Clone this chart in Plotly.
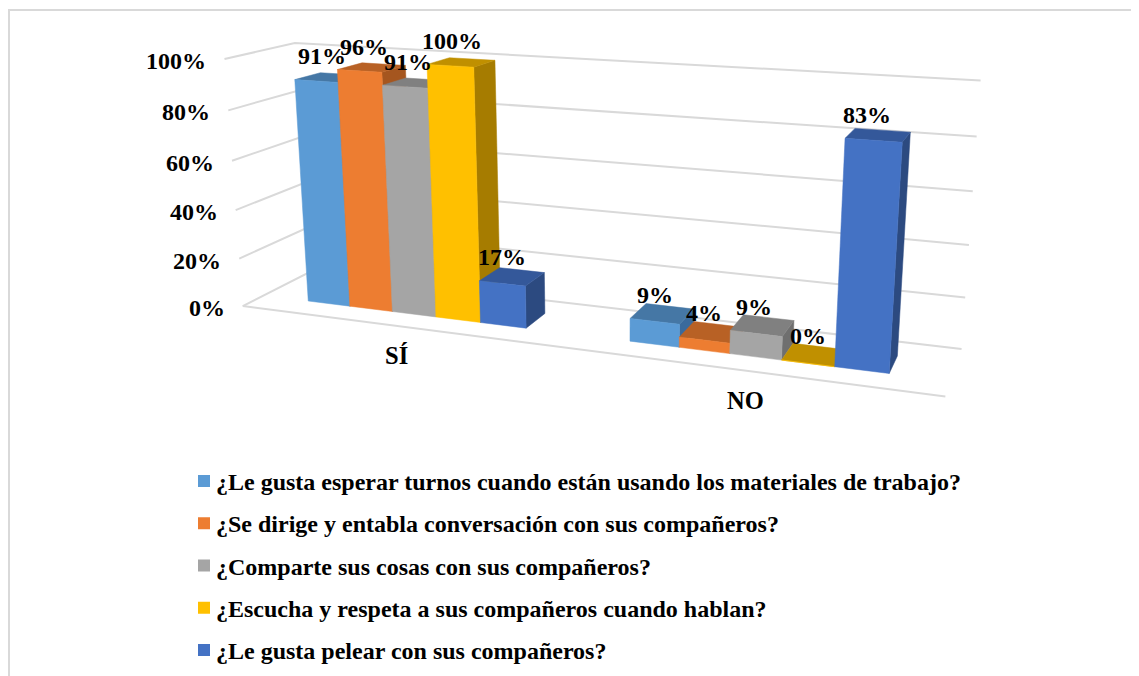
import numpy as np
import plotly.graph_objects as go

categories = ["SÍ", "NO"]
series_names = ["¿Le gusta esperar turnos cuando están usando los materiales de trabajo?",
                "¿Se dirige y entabla conversación con sus compañeros?",
                "¿Comparte sus cosas con sus compañeros?",
                "¿Escucha y respeta a sus compañeros cuando hablan?",
                "¿Le gusta pelear con sus compañeros?"]
si_values = [91, 96, 91, 100, 17]
no_values = [9, 4, 9, 0, 83]
ticks = [0, 20, 40, 60, 80, 100]

front_colors = ["#5B9BD5", "#ED7D31", "#A5A5A5", "#FFC000", "#4472C4"]
top_colors = ["#4577A5", "#B86125", "#808080", "#C09000", "#34589A"]
side_colors = ["#3A6A9C", "#A5561F", "#6F6F6F", "#A67C00", "#2C4A80"]
GRID = "#D9D9D9"
FONT = "Liberation Serif"

# small placement corrections for the value labels, per category and series
label_dx = [[0, 0, 0, 0, -1], [3, 3.5, 4, 7, 2]]
label_dy = [[-1, 0, -1, -1, -2], [-2, -3, -2, -3, -1]]

# 3-D chart box and the camera that views it
BOX = (2.784, 0.4876, 1.0)
GAP, BAR_FRONT, BAR_BACK = 2.1909, 0.3017, 0.6831
EYE = np.array([1.8161, -4.67, 1.266])
CENTER = np.array([0.1393, 0.0262, -0.082])
UP = np.array([-0.0899, 0.245, 0.9653])
CX, CY, FOCAL = 623.0, 223.8, 1370.1

fwd = (CENTER - EYE) / np.linalg.norm(CENTER - EYE)
right = np.cross(fwd, UP); right /= np.linalg.norm(right)
down = np.cross(fwd, right)


def project(u, v, z):
    """u: category axis 0..2, v: depth 0..1, z: value axis 0..1 -> plot coordinates."""
    p = np.array([BOX[0] * (u / 2 - .5), BOX[1] * (v - .5), BOX[2] * (z - .5)]) - EYE
    d = p @ fwd
    return CX + FOCAL * (p @ right) / d, CY + FOCAL * (p @ down) / d


fig = go.Figure()


def polygon(points, color):
    xy = [project(*q) for q in points + points[:1]]
    fig.add_trace(go.Scatter(x=[a for a, _ in xy], y=[b for _, b in xy], mode="lines", fill="toself",
                             fillcolor=color, line=dict(color=color, width=0.5), hoverinfo="skip"))


# gridlines: left wall + back wall + front floor edge
gx, gy = [], []
for t in ticks:
    for q in [(0, 0, t / 100), (0, 1, t / 100), (2, 1, t / 100)]:
        a, b = project(*q); gx.append(a); gy.append(b)
    gx.append(None); gy.append(None)
for q in [(0, 0, 0), (2, 0, 0)]:
    a, b = project(*q); gx.append(a); gy.append(b)
fig.add_trace(go.Scatter(x=gx, y=gy, mode="lines", line=dict(color=GRID, width=2), hoverinfo="skip"))

annotations = []


def label(x, y, text, size=24, xanchor="center"):
    annotations.append(dict(x=x, y=y, xref="x", yref="y", text=f"<b>{text}</b>", showarrow=False, xanchor=xanchor,
                            yanchor="middle", font=dict(family=FONT, size=size, color="black")))


w = 1 / (5 + GAP)
for c, values in enumerate([si_values, no_values]):
    for s, val in enumerate(values):
        x0 = c + (GAP / 2 + s) * w
        x1 = x0 + w
        z = val / 100
        polygon([(x1, BAR_FRONT, 0), (x1, BAR_BACK, 0), (x1, BAR_BACK, z), (x1, BAR_FRONT, z)], side_colors[s])
        polygon([(x0, BAR_FRONT, z), (x1, BAR_FRONT, z), (x1, BAR_BACK, z), (x0, BAR_BACK, z)], top_colors[s])
        polygon([(x0, BAR_FRONT, 0), (x1, BAR_FRONT, 0), (x1, BAR_FRONT, z), (x0, BAR_FRONT, z)], front_colors[s])
        a, b = project((x0 + x1) / 2, BAR_FRONT, z)
        label(a + 5.5 - 14 * (a - 320) / 545 + label_dx[c][s], b - 24 + label_dy[c][s], f"{val}%")
    a, b = project(c + .5, 0, 0)
    label(a + (1 - c), b + 30, categories[c], size=24.5)

for t in ticks:
    a, b = project(0, 0, t / 100)
    label(a - 16, b + 2, f"{t}%", xanchor="right")

shapes = [dict(type="path", path="M9,684 L9,10 L1147,10", xref="x", yref="y", line=dict(color=GRID, width=2))]
for s, name in enumerate(series_names):
    yc = 481 + s * 42.25
    shapes.append(dict(type="rect", xref="x", yref="y", x0=198, x1=210, y0=yc - 6, y1=yc + 6,
                       fillcolor=front_colors[s], line=dict(width=0)))
    label(214, yc + 1, name, size=24, xanchor="left")

# The page sets the figure 8 px in from the window edge; the axes run in window pixels
fig.update_layout(width=1139, height=676, margin=dict(l=0, r=0, t=0, b=0), paper_bgcolor="white", plot_bgcolor="white",
                  showlegend=False, shapes=shapes, annotations=annotations,
                  xaxis=dict(range=[8, 1147], visible=False, fixedrange=True),
                  yaxis=dict(range=[684, 8], visible=False, fixedrange=True))
fig.write_html("out.html")
